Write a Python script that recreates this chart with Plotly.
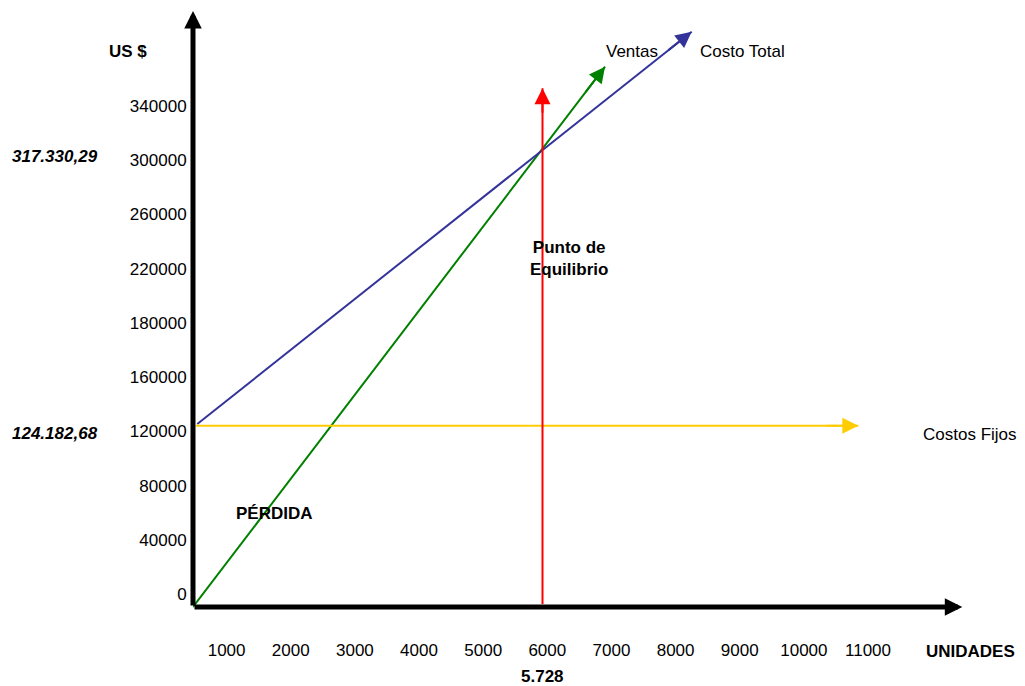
import plotly.graph_objects as go

# ---------------- data ----------------
# x: units on the chart's own tick scale; y: position on the drawn US$ scale
x_tick_values = [1000, 2000, 3000, 4000, 5000, 6000, 7000, 8000, 9000, 10000, 11000]
y_tick_labels = ["0", "40000", "80000", "120000", "160000", "180000",
                 "220000", "260000", "300000", "340000"]
y_tick_step = 40000

ventas_x = [476, 6900]
ventas_y = [-9590, 389000]

costo_total_x = [543, 8251]
costo_total_y = [125400, 414800]

costos_fijos_x = [523, 10849]
costos_fijos_y = [124182.68, 124182.68]

equilibrio_x = [5925, 5925]
equilibrio_y = [-7400, 373000]

axis_x = [476, 12470]      # horizontal axis from origin to arrow tip
axis_y = [-9590, 430000]   # vertical axis from origin to arrow tip

# ---------------- layout constants ----------------
W, H = 1025, 686
L, R, T, B = 193, 62, 10, 78
X_RANGE = [476, 12481]
Y_RANGE = [-10328, 430817]
FONT = "Liberation Sans, Arial, sans-serif"
FS = 17

def px(xp, yp):
    """pixel -> paper coordinates (for text placement only)"""
    return (xp - L) / (W - L - R), (H - B - yp) / (H - T - B)

fig = go.Figure()

lines = [
    (ventas_x, ventas_y, "#008000", "Ventas"),
    (costo_total_x, costo_total_y, "#333399", "Costo Total"),
    (costos_fijos_x, costos_fijos_y, "#FFCC00", "Costos Fijos"),
    (equilibrio_x, equilibrio_y, "#FF0000", "Punto de Equilibrio"),
]
for xs, ys, col, name in lines:
    fig.add_trace(go.Scatter(x=xs, y=ys, mode="lines", name=name,
                             line=dict(color=col, width=2),
                             hoverinfo="skip", showlegend=False, cliponaxis=False))

annotations = []

def arrow_head(xs, ys, col, width, size):
    tail_x = xs[-1] - 0.05 * (xs[-1] - xs[0])
    tail_y = ys[-1] - 0.05 * (ys[-1] - ys[0])
    annotations.append(dict(x=xs[-1], y=ys[-1], ax=tail_x, ay=tail_y,
                            xref="x", yref="y", axref="x", ayref="y",
                            text="", showarrow=True, arrowhead=2,
                            arrowsize=size, arrowwidth=width, arrowcolor=col,
                            standoff=0))

for xs, ys, col, name in lines:
    arrow_head(xs, ys, col, 2, 1.6)

# axes drawn as thick black arrows
annotations.append(dict(x=axis_x[0], y=axis_y[1], ax=axis_x[0], ay=axis_y[0],
                        xref="x", yref="y", axref="x", ayref="y", text="",
                        showarrow=True, arrowhead=2, arrowsize=0.7, arrowwidth=5,
                        arrowcolor="black", standoff=0))
annotations.append(dict(x=axis_x[1], y=axis_y[0], ax=axis_x[0], ay=axis_y[0],
                        xref="x", yref="y", axref="x", ayref="y", text="",
                        showarrow=True, arrowhead=2, arrowsize=0.7, arrowwidth=5,
                        arrowcolor="black", standoff=0))

def label(text, xp, yp, bold=False, italic=False):
    x, y = px(xp, yp)
    t = text
    if bold:
        t = "<b>" + t + "</b>"
    if italic:
        t = "<i>" + t + "</i>"
    annotations.append(dict(x=x, y=y, xref="paper", yref="paper", text=t,
                            showarrow=False, xanchor="center", yanchor="middle",
                            font=dict(family=FONT, size=FS, color="black")))

label("US $", 128, 52, bold=True)
label("317.330,29", 55, 157, bold=True, italic=True)
label("124.182,68", 55, 433, bold=True, italic=True)
label("PÉRDIDA", 274, 513, bold=True)
label("Punto de<br>Equilibrio", 569, 258, bold=True)
label("Ventas", 632, 52)
label("Costo Total", 742, 52)
label("Costos Fijos", 970, 434)
label("UNIDADES", 970, 651, bold=True)
label("5.728", 542, 676, bold=True)

fig.update_layout(
    width=W, height=H, autosize=False,
    margin=dict(l=L, r=R, t=T, b=B, pad=0),
    paper_bgcolor="white", plot_bgcolor="white",
    font=dict(family=FONT, size=FS, color="black"),
    showlegend=False,
    annotations=annotations,
    xaxis=dict(range=X_RANGE, showgrid=False, zeroline=False, showline=False,
               tickvals=x_tick_values, ticktext=[str(v) for v in x_tick_values],
               ticks="outside", ticklen=27, tickcolor="rgba(0,0,0,0)",
               tickfont=dict(family=FONT, size=FS, color="black"), fixedrange=True),
    yaxis=dict(range=Y_RANGE, showgrid=False, zeroline=False, showline=False,
               tickvals=[i * y_tick_step for i in range(len(y_tick_labels))],
               ticktext=y_tick_labels,
               ticks="outside", ticklen=2, tickcolor="rgba(0,0,0,0)",
               tickfont=dict(family=FONT, size=FS, color="black"), fixedrange=True),
)

fig.write_html("out.html", config={"displayModeBar": False},
               post_script="document.body.style.margin='0px';"
                           "document.body.style.overflow='hidden';")
